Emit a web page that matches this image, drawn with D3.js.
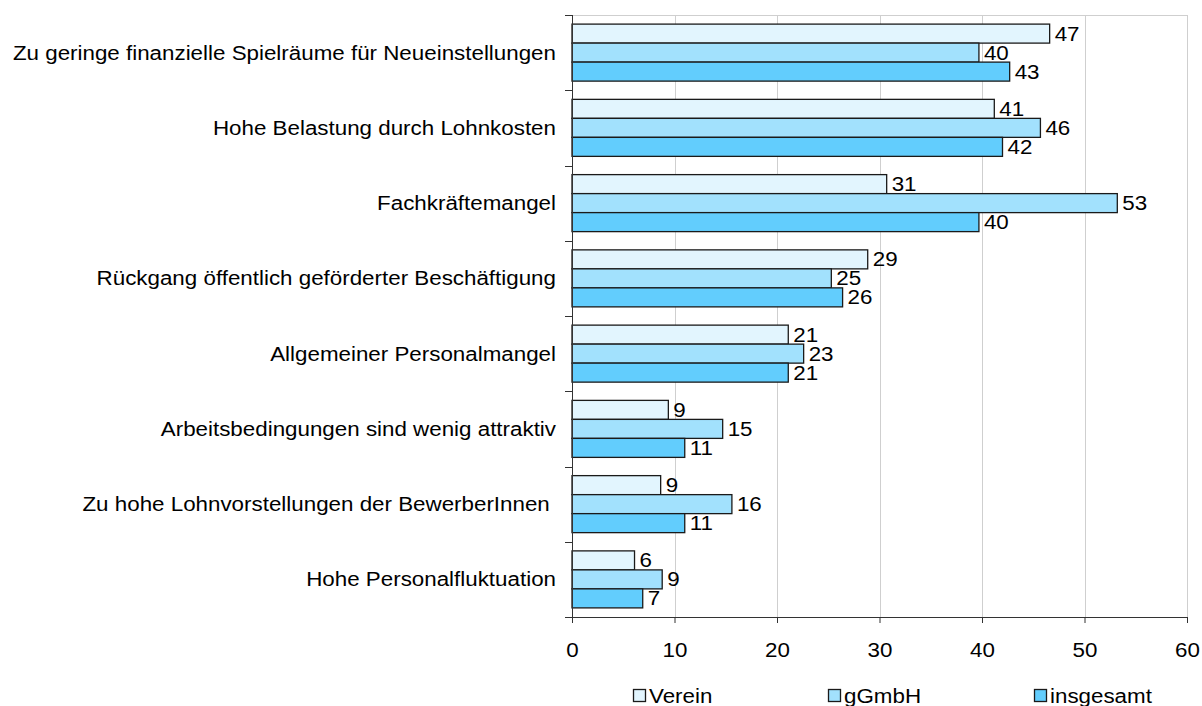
<!DOCTYPE html>
<html>
<head>
<meta charset="utf-8">
<script src="https://cdn.jsdelivr.net/npm/d3@7"></script>
<style>
  html, body { margin: 0; padding: 0; background: #ffffff; }
  svg { display: block; }
  text { font-family: Arial, "Liberation Sans", sans-serif; fill: #000; }
</style>
</head>
<body>
<svg id="chart" width="1202" height="706"></svg>
<script>
const categories = [
  "Zu geringe finanzielle Spielräume für Neueinstellungen",
  "Hohe Belastung durch Lohnkosten",
  "Fachkräftemangel",
  "Rückgang öffentlich geförderter Beschäftigung",
  "Allgemeiner Personalmangel",
  "Arbeitsbedingungen sind wenig attraktiv",
  "Zu hohe Lohnvorstellungen der BewerberInnen ",
  "Hohe Personalfluktuation"
];
const seriesNames = ["Verein", "gGmbH", "insgesamt"];
const verein    = [46.6, 41.2, 30.7, 28.85, 21.1, 9.4, 8.65, 6.1];
const ggmbh     = [39.7, 45.7, 53.2, 25.3, 22.6, 14.7, 15.6, 8.8];
const insgesamt = [42.7, 42.0, 39.7, 26.4, 21.1, 11.0, 11.0, 6.9];
const xTicks = [0, 10, 20, 30, 40, 50, 60];
const colors = ["#e2f5fe", "#a2e1fd", "#62cdfd"];

const seriesValues = [verein, ggmbh, insgesamt];
const SX = 1.13; // slight horizontal text stretch seen in the reference
const FS = 19.8;

const svg = d3.select("#chart");
const margin = { left: 572, top: 15 };
const W = 615, H = 602;
const g = svg.append("g").attr("transform", `translate(${margin.left},${margin.top})`);

const x = d3.scaleLinear().domain([0, 60]).range([0, W]);
const y = d3.scaleBand().domain(categories).range([0, H])
  .paddingInner(0.2425).paddingOuter(0.121);
const ys = d3.scaleBand().domain(seriesNames).range([0, y.bandwidth()]);

// gridlines
g.selectAll("line.grid").data(xTicks.filter(d => d > 0)).join("line")
  .attr("class", "grid")
  .attr("x1", d => Math.round(x(d)) + 0.5).attr("x2", d => Math.round(x(d)) + 0.5)
  .attr("y1", 0).attr("y2", H)
  .attr("stroke", "#cfcfcf").attr("stroke-width", 1);
// top border
g.append("line").attr("x1", 0).attr("x2", W).attr("y1", 0.5).attr("y2", 0.5)
  .attr("stroke", "#cfcfcf");

// bars
const rows = categories.map((c, i) => ({ c, i }));
const grp = g.selectAll("g.cat").data(rows).join("g")
  .attr("class", "cat")
  .attr("transform", d => `translate(0,${y(d.c)})`);

seriesNames.forEach((s, si) => {
  grp.append("rect")
    .attr("x", 0)
    .attr("y", ys(s))
    .attr("width", d => x(seriesValues[si][d.i]))
    .attr("height", ys.bandwidth())
    .attr("fill", colors[si])
    .attr("stroke", "#1a1a1a").attr("stroke-width", 1.3);
  grp.append("text")
    .attr("transform", d => `translate(${x(seriesValues[si][d.i]) + 5},${ys(s) + ys.bandwidth() - 2.5}) scale(${SX},1)`)
    .attr("font-size", FS)
    .text(d => Math.round(seriesValues[si][d.i]));
});

// y axis (category boundaries ticks)
const yBounds = d3.range(categories.length + 1).map(i => i * H / categories.length);
g.append("line").attr("x1", 0.5).attr("x2", 0.5).attr("y1", 0).attr("y2", H)
  .attr("stroke", "#333").attr("stroke-width", 1);
g.selectAll("line.ytick").data(yBounds).join("line")
  .attr("class", "ytick")
  .attr("x1", -7).attr("x2", 0)
  .attr("y1", d => Math.round(d) + 0.5).attr("y2", d => Math.round(d) + 0.5)
  .attr("stroke", "#333");

// category labels
g.selectAll("text.cat").data(categories).join("text")
  .attr("class", "cat")
  .attr("text-anchor", "end")
  .attr("font-size", FS)
  .style("white-space", "pre")
  .attr("transform", d => `translate(-16,${y(d) + y.bandwidth() / 2 + 7}) scale(${SX},1)`)
  .text(d => d);

// x axis
const xAxis = g.append("g").attr("transform", `translate(0,${H})`)
  .call(d3.axisBottom(x).tickValues(xTicks).tickSize(6).tickSizeOuter(0).tickFormat(d3.format("d")));
xAxis.select(".domain").attr("stroke", "#333");
xAxis.selectAll(".tick line").attr("stroke", "#333");
xAxis.selectAll(".tick text")
  .attr("font-size", FS).attr("font-family", "Arial, 'Liberation Sans', sans-serif")
  .attr("fill", "#000")
  .attr("y", 0).attr("dy", 0)
  .attr("transform", `translate(0,40) scale(${SX},1)`);

// legend
const legendX = [633, 828, 1034];
const leg = svg.selectAll("g.leg").data(seriesNames).join("g")
  .attr("class", "leg")
  .attr("transform", (d, i) => `translate(${legendX[i]},689)`);
leg.append("rect").attr("x", 0.5).attr("y", 0.5).attr("width", 12).attr("height", 12)
  .attr("fill", (d, i) => colors[i]).attr("stroke", "#1a1a1a").attr("stroke-width", 1.3);
leg.append("text")
  .attr("font-size", FS)
  .attr("transform", `translate(16,13.8) scale(${SX},1)`)
  .text(d => d);
</script>
</body>
</html>
